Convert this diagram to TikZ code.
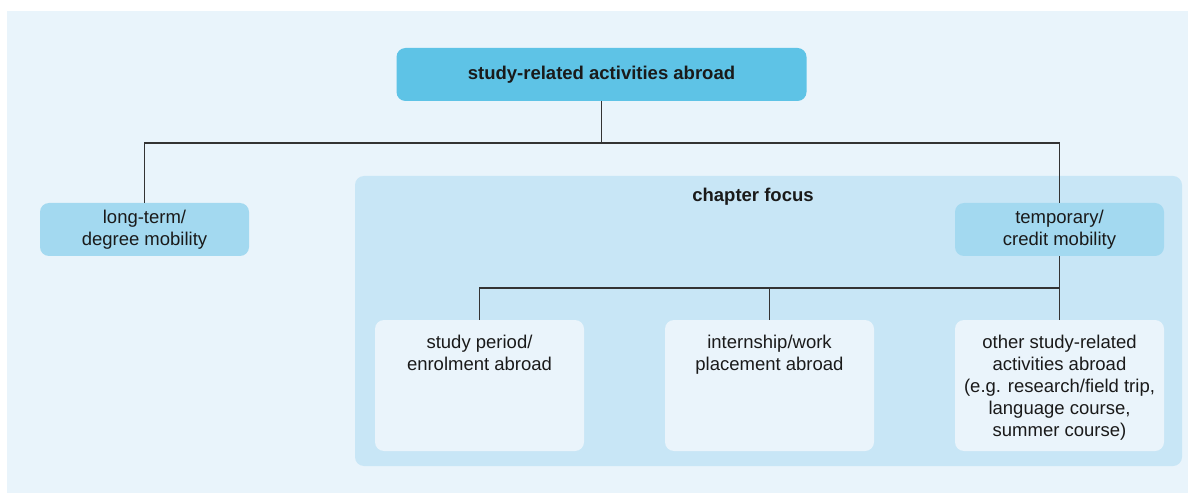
\documentclass[tikz,border=0pt]{standalone}
\usepackage{fontspec}
\setmainfont{Liberation Sans}
\definecolor{bgc}{HTML}{E9F4FB}
\definecolor{topc}{HTML}{5EC3E6}
\definecolor{midc}{HTML}{A3D9F0}
\definecolor{focc}{HTML}{C8E6F6}
\definecolor{boxc}{HTML}{EAF4FB}
\definecolor{linec}{HTML}{333333}
\definecolor{txtc}{HTML}{1A1A1A}
\tikzset{
  box/.style={rectangle, rounded corners=9pt, draw=none, inner sep=0pt},
  txt/.style={align=center, inner sep=0pt, text=txtc, font=\fontsize{18.5}{22}\selectfont},
  toptxt/.style={txt, anchor=north},
  btxt/.style={txt, font=\fontsize{18.5}{22}\selectfont\bfseries},
  conn/.style={draw=linec, line width=1.4pt}
}
\begin{document}
\begin{tikzpicture}[x=1pt,y=-1pt]
\useasboundingbox (0,0) rectangle (1188,494);
\fill[white] (0,0) rectangle (1188,494);
\fill[bgc] (7,11) rectangle (1188,493);
% chapter focus region
\node[box, fill=focc, minimum width=827pt, minimum height=290pt] (focus) at (768.5,321) {};
\node[btxt] (focuslbl) at (753,197) {chapter focus};
% top node
\node[box, fill=topc, minimum width=410pt, minimum height=53pt] (top) at (601.5,74.5) {};
\node[btxt] at (top.center) {study-related activities abroad};
% second level
\node[box, fill=midc, minimum width=209pt, minimum height=53pt] (left) at (144.5,229.5) {};
\node[txt] at (left.center) {long-term/\\degree mobility};
\node[box, fill=midc, minimum width=209pt, minimum height=53pt] (temp) at (1059.5,229.5) {};
\node[txt] at (temp.center) {temporary/\\credit mobility};
% third level
\node[box, fill=boxc, minimum width=209pt, minimum height=131pt] (b1) at (479.5,385.5) {};
\node[box, fill=boxc, minimum width=209pt, minimum height=131pt] (b2) at (769.5,385.5) {};
\node[box, fill=boxc, minimum width=209pt, minimum height=131pt] (b3) at (1059.5,385.5) {};
\node[toptxt] at (479.5,335) {study period/\\enrolment abroad};
\node[toptxt] at (769.5,335) {internship/work\\placement abroad};
\node[toptxt] at (1059.5,335) {other study-related\\activities abroad\\(e.g. research/field trip,\\language course,\\summer course)};
% connectors
\coordinate (j1) at (601.5,143);
\coordinate (j2) at (1059.5,288);
\draw[conn] (top.south) -- (j1);
\draw[conn] (left.north) |- (j1) -| (temp.north);
\draw[conn] (temp.south) -- (b3.north);
\draw[conn] (b1.north) |- (j2);
\draw[conn] (b2.north) -- (b2.north |- j2);
\end{tikzpicture}
\end{document}
